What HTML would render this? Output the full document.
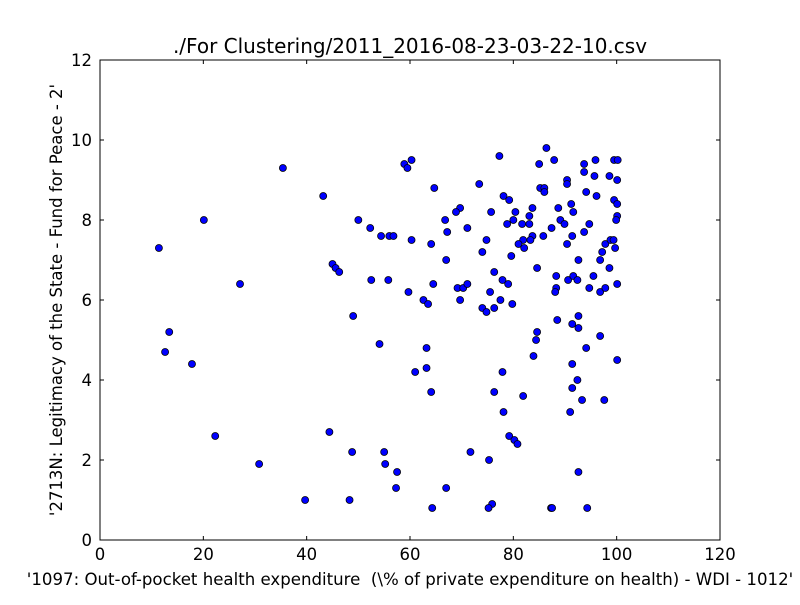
<!DOCTYPE html>
<html><head><meta charset="utf-8"><style>
body{margin:0;background:#fff;}
svg text{font-family:"DejaVu Sans","Liberation Sans",sans-serif;fill:#000;white-space:pre;}
</style></head><body>
<svg id="chart" width="800" height="600" xmlns="http://www.w3.org/2000/svg" xml:space="preserve">
<rect width="800" height="600" fill="#fff"/>
<text x="410" y="53" font-size="20" text-anchor="middle">./For Clustering/2011_2016-08-23-03-22-10.csv</text>
<g id="ticks"></g>
<g id="points"></g>
<rect x="100" y="60" width="620" height="480" fill="none" stroke="#000" stroke-width="1"/>
<text x="410" y="585" font-size="16.6" text-anchor="middle">'1097: Out-of-pocket health expenditure  (\% of private expenditure on health) - WDI - 1012'</text>
<text transform="translate(62,300) rotate(-90)" font-size="16.5" text-anchor="middle">'2713N: Legitimacy of the State - Fund for Peace - 2'</text>
</svg>
<script>
const xTicks=[0,20,40,60,80,100,120];
const yTicks=[0,2,4,6,8,10,12];
const xVals=[86.4,77.3,85.0,87.9,93.7,95.9,99.5,100.2,93.7,95.7,98.6,100.1,90.4,90.4,73.4,85.2,86.0,86.0,94.1,96.1,78.1,79.2,99.5,100.1,91.2,69.7,68.9,75.7,80.4,83.7,88.7,91.6,100.1,99.9,83.1,66.8,80.0,78.8,81.7,83.1,89.1,89.9,94.7,67.2,71.1,87.4,93.7,91.4,83.7,85.8,74.8,81.9,83.3,81.0,82.1,90.4,97.8,98.8,99.4,99.7,97.2,74.0,67.0,79.6,92.6,96.8,84.6,98.6,76.3,77.9,79.0,88.3,90.6,91.6,92.4,95.5,69.2,70.3,71.1,88.3,88.1,94.7,96.8,97.8,100.1,75.5,69.7,77.5,79.8,74.0,74.8,76.3,92.6,88.5,91.4,92.6,84.6,96.8,84.4,94.1,100.1,83.9,91.4,77.9,92.4,91.4,76.3,81.9,93.3,97.6,78.1,91.0,79.2,80.2,80.8,71.7,75.3,92.6,67.0,75.9,75.2,87.3,87.5,94.3,60.3,58.9,59.5,64.7,43.2,50.0,52.3,54.4,56.0,56.8,60.3,64.1,45.0,45.6,46.3,52.5,55.8,64.5,59.7,62.6,63.5,49.0,54.1,63.2,63.2,61.0,64.1,44.4,48.8,55.0,55.2,57.5,57.3,39.7,48.3,64.3,11.4,12.6,13.4,17.8,20.1,22.3,27.1,30.8,35.4];
const yVals=[9.8,9.6,9.4,9.5,9.4,9.5,9.5,9.5,9.2,9.1,9.1,9.0,9.0,8.9,8.9,8.8,8.8,8.7,8.7,8.6,8.6,8.5,8.5,8.4,8.4,8.3,8.2,8.2,8.2,8.3,8.3,8.2,8.1,8.0,8.1,8.0,8.0,7.9,7.9,7.9,8.0,7.9,7.9,7.7,7.8,7.8,7.7,7.6,7.6,7.6,7.5,7.5,7.5,7.4,7.3,7.4,7.4,7.5,7.5,7.3,7.2,7.2,7.0,7.1,7.0,7.0,6.8,6.8,6.7,6.5,6.4,6.6,6.5,6.6,6.5,6.6,6.3,6.3,6.4,6.3,6.2,6.3,6.2,6.3,6.4,6.2,6.0,6.0,5.9,5.8,5.7,5.8,5.6,5.5,5.4,5.3,5.2,5.1,5.0,4.8,4.5,4.6,4.4,4.2,4.0,3.8,3.7,3.6,3.5,3.5,3.2,3.2,2.6,2.5,2.4,2.2,2.0,1.7,1.3,0.9,0.8,0.8,0.8,0.8,9.5,9.4,9.3,8.8,8.6,8.0,7.8,7.6,7.6,7.6,7.5,7.4,6.9,6.8,6.7,6.5,6.5,6.4,6.2,6.0,5.9,5.6,4.9,4.8,4.3,4.2,3.7,2.7,2.2,2.2,1.9,1.7,1.3,1.0,1.0,0.8,7.3,4.7,5.2,4.4,8.0,2.6,6.4,1.9,9.3];
const NS='http://www.w3.org/2000/svg';
const X0=100,X1=720,Y0=540,Y1=60;
function sx(v){return X0+(v-0)/(120-0)*(X1-X0);}
function sy(v){return Y0-(v-0)/(12-0)*(Y0-Y1);}
const tg=document.getElementById('ticks');
xTicks.forEach(t=>{
  const x=sx(t);
  [[Y0,Y0-4],[Y1,Y1+4]].forEach(p=>{
    const l=document.createElementNS(NS,'line');
    l.setAttribute('x1',x);l.setAttribute('x2',x);l.setAttribute('y1',p[0]);l.setAttribute('y2',p[1]);
    l.setAttribute('stroke','#000');
    
    
    tg.appendChild(l);
  });
  const tx=document.createElementNS(NS,'text');
  tx.setAttribute('x',x);tx.setAttribute('y',560);tx.setAttribute('font-size','16.5');tx.setAttribute('text-anchor','middle');
  tx.textContent=t;
  
  
  tg.appendChild(tx);
});
yTicks.forEach(t=>{
  const y=sy(t);
  [[X0,X0+4],[X1,X1-4]].forEach(p=>{
    const l=document.createElementNS(NS,'line');
    l.setAttribute('x1',p[0]);l.setAttribute('x2',p[1]);l.setAttribute('y1',y);l.setAttribute('y2',y);
    l.setAttribute('stroke','#000');
    
    
    tg.appendChild(l);
  });
  const tx=document.createElementNS(NS,'text');
  tx.setAttribute('x',92);tx.setAttribute('y',y+6);tx.setAttribute('font-size','16.5');tx.setAttribute('text-anchor','end');
  tx.textContent=t;
  
  
  tg.appendChild(tx);
});
const pg=document.getElementById('points');
xVals.forEach((v,i)=>{
  const c=document.createElementNS(NS,'circle');
  c.setAttribute('cx',sx(v));c.setAttribute('cy',sy(yVals[i]));c.setAttribute('r','3.5');
  c.setAttribute('fill','#0000ff');c.setAttribute('stroke','#000');c.setAttribute('stroke-width','0.8');
  
  
  pg.appendChild(c);
});
</script>
</body></html>
